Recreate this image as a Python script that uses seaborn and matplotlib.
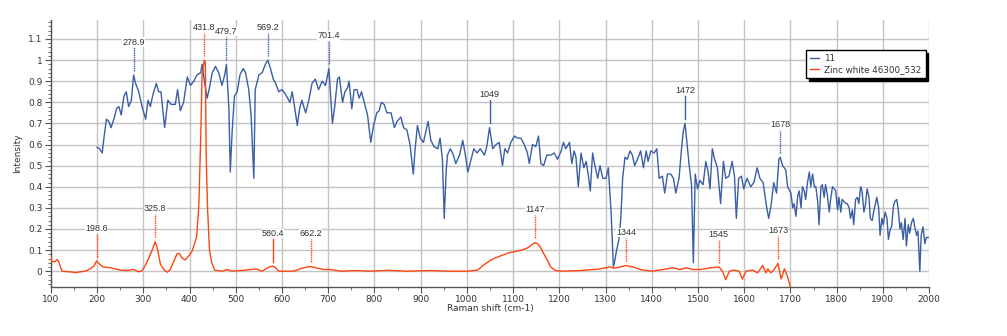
import numpy as np
import pandas as pd
import matplotlib
matplotlib.use("Agg")
import matplotlib.pyplot as plt
import seaborn as sns

# Series "11" (blue)
x_11 = [200, 205, 211, 214, 220, 225, 230, 236, 242, 247, 252, 258, 263, 268, 274, 278.9, 283, 290, 297,
        305, 310, 315, 321, 328, 333, 338, 346, 353, 360, 369, 374, 380, 387, 395, 402, 409, 416, 424, 427,
        432, 438, 444, 449, 456, 463, 470, 476, 479.7, 485, 488, 492, 497, 503, 509, 516, 521, 528, 533, 539,
        542, 550, 557, 564, 569.2, 575, 581, 586, 593, 600, 607, 617, 622, 627, 633, 638, 643, 651, 658, 665,
        672, 679, 687, 694, 701.4, 709, 714, 720, 724, 731, 736, 742, 745, 751, 756, 762, 767, 772, 778, 785,
        792, 798, 805, 810, 815, 821, 827, 836, 843, 849, 857, 863, 870, 877, 884, 888, 893, 899, 906, 911,
        916, 922, 929, 937, 942, 947, 951, 955, 958, 964, 969, 976, 984, 991, 996, 1002, 1009, 1015, 1022,
        1029, 1038, 1043, 1049, 1056, 1063, 1070, 1077, 1082, 1088, 1095, 1103, 1110, 1117, 1124, 1131, 1135,
        1142, 1149, 1155, 1160, 1166, 1173, 1182, 1189, 1196, 1204, 1209, 1214, 1222, 1227, 1232, 1236, 1241,
        1247, 1253, 1258, 1263, 1267, 1272, 1277, 1283, 1288, 1294, 1301, 1306, 1312, 1317, 1320, 1324, 1329,
        1333, 1337, 1342, 1347, 1353, 1358, 1363, 1369, 1376, 1382, 1388, 1392, 1398, 1405, 1411, 1416, 1423,
        1428, 1434, 1441, 1447, 1452, 1459, 1464, 1468, 1472, 1476, 1481, 1486, 1490, 1494, 1499, 1504, 1511,
        1517, 1522, 1526, 1531, 1536, 1542, 1549, 1555, 1560, 1567, 1574, 1579, 1583, 1588, 1594, 1599, 1606,
        1614, 1621, 1628, 1634, 1641, 1648, 1653, 1658, 1664, 1670, 1675, 1678, 1683, 1690, 1694, 1701, 1705,
        1708, 1712, 1716, 1719, 1723, 1726, 1730, 1733, 1737, 1741, 1744, 1748, 1752, 1755, 1759, 1762, 1766,
        1769, 1773, 1776, 1780, 1784, 1787, 1791, 1795, 1798, 1802, 1805, 1809, 1812, 1816, 1820, 1823, 1827,
        1830, 1834, 1837, 1841, 1845, 1848, 1852, 1855, 1859, 1862, 1866, 1870, 1873, 1877, 1880, 1884, 1887,
        1891, 1894, 1898, 1901, 1905, 1909, 1912, 1916, 1919, 1923, 1926, 1930, 1933, 1937, 1940, 1944, 1948,
        1951, 1955, 1958, 1962, 1966, 1969, 1973, 1976, 1980, 1983, 1987, 1991, 1994, 2000]
y_11 = [.587, .58, .56, .62, .72, .71, .68, .72, .77, .78, .74, .83, .85, .78, .81, .93, .89, .85, .78,
        .72, .81, .78, .84, .89, .85, .85, .68, .81, .79, .79, .86, .76, .80, .92, .88, .90, .93, .94, .98,
        .90, .82, .88, .94, .97, .94, .88, .93, .98, .77, .47, .66, .83, .85, .93, .96, .94, .86, .74, .44,
        .86, .93, .94, .98, 1.0, .96, .91, .89, .85, .86, .84, .80, .85, .78, .69, .77, .81, .75, .81, .89,
        .91, .86, .90, .88, .96, .70, .78, .91, .92, .80, .85, .87, .90, .77, .86, .86, .82, .85, .80, .74,
        .61, .69, .75, .76, .80, .79, .75, .75, .68, .71, .73, .68, .67, .60, .46, .58, .69, .63, .61, .66,
        .71, .62, .59, .58, .63, .53, .25, .47, .55, .58, .56, .51, .55, .62, .56, .47, .53, .58, .56,
        .58, .55, .59, .68, .58, .60, .61, .50, .58, .56, .61, .64, .63, .63, .60, .56, .51,
        .60, .59, .64, .51, .50, .55, .55, .56, .53, .57, .61, .58, .61, .51, .57, .54, .40,
        .56, .49, .52, .45, .38, .56, .50, .44, .50, .44, .44, .49, .28, .02, .05, .10, .15,
        .25, .44, .54, .53, .57, .55, .50, .53, .57, .49, .57, .52, .57, .56, .58, .44, .45,
        .37, .46, .46, .44, .37, .44, .57, .66, .70, .61, .50, .41, .04, .46, .39, .43, .41,
        .52, .47, .39, .58, .53, .49, .32, .52, .44, .45, .52, .45, .25, .44, .45, .39, .44,
        .40, .42, .49, .44, .42, .31, .25, .31, .42, .37, .53, .54, .50, .48, .40, .37, .30,
        .32, .26, .36, .38, .30, .40, .38, .34, .42, .47, .40, .46, .40, .40, .33, .22, .40,
        .41, .35, .41, .36, .28, .34, .40, .39, .38, .29, .35, .28, .34, .33, .32, .32, .30,
        .25, .29, .22, .34, .35, .32, .40, .38, .28, .31, .39, .35, .25, .24, .28, .32, .35,
        .30, .17, .25, .22, .28, .25, .15, .20, .21, .31, .33, .34, .30, .20, .23, .15, .25,
        .12, .22, .18, .23, .25, .21, .17, .19, .0, .17, .21, .13, .16, .16]

# Series "Zinc white 46300_532" (orange)
x_zw = [100, 102, 109, 113, 116, 124, 149, 153, 157, 175, 186, 193, 198.6, 206, 213, 229, 250, 265, 279,
        290, 298, 305, 312, 319, 325.8, 331, 337, 345, 352, 358, 366, 373, 378, 383, 390, 398, 405, 409, 415,
        420, 424, 427, 431.8, 434, 436, 439, 443, 448, 454, 471, 481, 492, 521, 543, 557, 565, 572, 580.4,
        586, 593, 626, 641, 655, 662.2, 677, 691, 706, 713, 728, 760, 790, 830, 870, 920, 960, 1000, 1023,
        1038, 1052, 1063, 1077, 1092, 1102, 1117, 1131, 1147, 1153, 1160, 1167, 1174, 1181, 1192, 1203,
        1246, 1289, 1310, 1317, 1332, 1344, 1360, 1375, 1389, 1400, 1425, 1446, 1461, 1475, 1490, 1505,
        1528, 1545, 1553, 1560, 1568, 1578, 1589, 1596, 1604, 1618, 1629, 1640, 1647, 1651, 1658, 1665,
        1673, 1680, 1687, 1694, 1700]
y_zw = [.07, .045, .045, .055, .048, .0, -.005, -.008, -.005, .0, .013, .024, .048, .032, .02, .016, .005,
        .003, .008, -.003, .003, .032, .064, .10, .14, .10, .032, .005, -.005, .008, .048, .083, .084, .064,
        .053, .072, .093, .12, .16, .31, .63, .93, 1.0, .99, .53, .29, .10, .04, .005, .0, .008, .0, .005,
        .011, .0, .011, .02, .024, .016, .0, .0, .013, .02, .022, .014, .008, .008, .005, .0, .003, .0, .004,
        .0, .003, .0, .0, .005, .032, .053, .064, .076, .088, .092, .099, .11, .135, .13, .11, .08, .053,
        .02, .003, .0, .003, .011, .02, .014, .02, .027, .02, .008, .003, .0, .008, .016, .008, .016, .008,
        .008, .016, .02, .0, -.04, .0, .005, .0, -.037, .0, .005, -.008, .027, -.008, .011, -.008, .008,
        .037, -.037, .011, -.027, -.075]

series_names = ["11", "Zinc white 46300_532"]
peaks_11 = [278.9, 479.7, 569.2, 701.4, 1049, 1472, 1678]
peak_labels_11 = ["278.9", "479.7", "569.2", "701.4", "1049", "1472", "1678"]
peaks_zw = [198.6, 325.8, 431.8, 580.4, 662.2, 1147, 1344, 1545, 1673]
peak_labels_zw = ["198.6", "325.8", "431.8", "580.4", "662.2", "1147", "1344", "1545", "1673"]

x_ticks = list(range(100, 2001, 100))
y_ticks = [0, 0.1, 0.2, 0.3, 0.4, 0.5, 0.6, 0.7, 0.8, 0.9, 1.0, 1.1]
y_tick_labels = ["0", "0.1", "0.2", "0.3", "0.4", "0.5", "0.6", "0.7", "0.8", "0.9", "1", "1.1"]

blue = "#3b5ea4"
orange = "#ff4510"
text_color = "#333333"

df = pd.concat([
    pd.DataFrame({"shift": x_11, "intensity": y_11, "series": series_names[0]}),
    pd.DataFrame({"shift": x_zw, "intensity": y_zw, "series": series_names[1]}),
])

fig = plt.figure(figsize=(10.07, 3.36), dpi=100)
ax = fig.add_axes([0.0506, 0.1458, 0.872, 0.7947])

sns.lineplot(data=df, x="shift", y="intensity", hue="series", palette=[blue, orange],
             estimator=None, sort=False, linewidth=1.0, ax=ax, legend=False, zorder=3)

# peak labels: text above the peak with a short marker line
def label_peaks(xs, ys, peaks, labels, color, solid):
    for p, lab in zip(peaks, labels):
        h = np.interp(p, xs, ys)
        ls = "-" if lab in solid else (0, (1, 0.6))
        ax.plot([p, p], [h + 0.02, h + 0.13], color=color, linewidth=1.0, linestyle=ls, zorder=4)
        ax.text(p, h + 0.155, lab, ha="center", va="center", fontsize=6.5, family="Liberation Sans",
                color=text_color, zorder=5, bbox=dict(facecolor="white", edgecolor="none", pad=0.1))

label_peaks(x_zw, y_zw, peaks_zw, peak_labels_zw, orange, ["580.4"])
label_peaks(x_11, y_11, peaks_11, peak_labels_11, blue, ["1049", "1472"])

ax.set_xlim(100, 2000)
ax.set_ylim(-0.075, 1.19)
ax.set_xticks(x_ticks)
ax.set_xticklabels([str(t) for t in x_ticks], fontsize=6.5, color=text_color)
ax.set_xticks(np.arange(150, 2000, 100), minor=True)
ax.set_yticks(y_ticks)
ax.set_yticklabels(y_tick_labels, fontsize=6.5, color=text_color)
ax.set_yticks(np.arange(-0.06, 1.19, 0.02), minor=True)
ax.tick_params(axis="both", which="major", length=4, color="#555555", pad=2)
ax.tick_params(axis="both", which="minor", length=2, color="#555555")
ax.grid(True, which="major", color="#c4c4c4", linewidth=1.0)
ax.set_axisbelow(True)
for side in ["top", "right"]:
    ax.spines[side].set_visible(False)
for side in ["left", "bottom"]:
    ax.spines[side].set_color("#555555")
    ax.spines[side].set_linewidth(1.0)

ax.set_xlabel("Raman shift (cm-1)", fontsize=6.5, color=text_color, labelpad=0)
ax.set_ylabel("Intensity", fontsize=6.5, color=text_color)
ax.yaxis.set_label_coords(-0.033, 0.5)

handles = [plt.Line2D([], [], color=blue, linewidth=1.0), plt.Line2D([], [], color=orange, linewidth=1.0)]
leg = ax.legend(handles, series_names, loc="upper right", bbox_to_anchor=(0.996, 0.8875),
                borderaxespad=0, fontsize=6.3, frameon=True, fancybox=False,
                shadow={"color": "black", "alpha": 1.0}, handlelength=1.0, handletextpad=0.6,
                borderpad=0.45, labelspacing=0.25)
leg.get_frame().set_edgecolor("black")
leg.get_frame().set_linewidth(1.0)
for t in leg.get_texts():
    t.set_color(text_color)

fig.savefig("out.png", dpi=100)
